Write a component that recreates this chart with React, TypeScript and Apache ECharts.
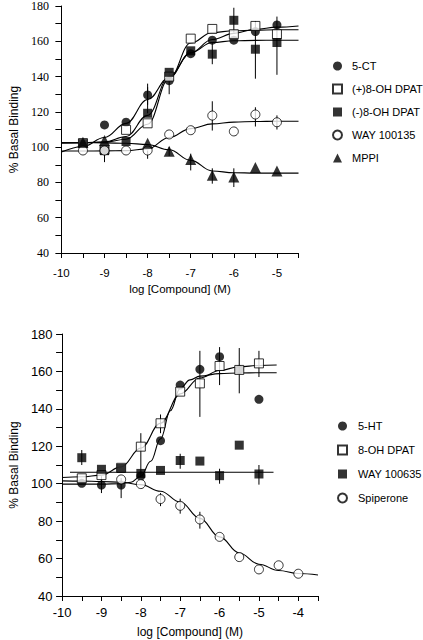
import React, { useEffect, useRef } from "react";
import * as echarts from "echarts";

// ---------- Top panel data ----------
const topX = [-9.5, -9, -8.5, -8, -7.5, -7, -6.5, -6, -5.5, -5];
const top5CT = [null, 112.6, 114.1, 129.6, 137.7, 153, 160.6, 160.6, 165.5, 169.3];
const topPlusDPAT = [102.3, 98.5, 109.8, 113.5, 140, 161.5, 167, 164, 168.7, 164];
const topMinusDPAT = [102, 98, 103.2, 119.2, 142.4, 154.6, 152.7, 171.9, 155.5, 159.3];
const topWAY135 = [98.1, 98.1, 98.1, 98.1, 107.2, 109.6, 117.9, 108.9, 118.5, 114.1];
const topMPPI = [102.8, 103.8, null, 102.2, 97.7, 93, 84, 83.1, 88.4, 86.5];

const topCurveX = [-10, -9.5, -9, -8.5, -8, -7.5, -7, -6.5, -6, -5.5, -5, -4.5];
const fit5CT = [97.2, 100.4, 105.5, 113.5, 127, 139.5, 153.5, 161, 164.5, 166.8, 168, 168.7];
const fitPlusDPAT = [102.4, 102.5, 102.8, 104.5, 113, 139, 159, 165, 166, 166.3, 166.5, 166.5];
const fitMinusDPAT = [102.4, 102.5, 103, 106, 118, 140, 153.5, 159.3, 160.3, 160.5, 160.6, 160.6];
const fitWAY135 = [97.8, 97.8, 97.9, 98, 99, 105.5, 110.5, 113.2, 114.2, 114.5, 114.7, 114.7];
const fitMPPI = [102.5, 102.5, 102.4, 102.2, 101.5, 98.5, 92.5, 86.5, 85.5, 85.3, 85.3, 85.3];

// [x, low, high]
const topErrors = [
  [-9, 91.5, 98.5],
  [-8, 124, 136],
  [-8, 119.2, 134],
  [-8, 93.4, 98.1],
  [-7.5, 130, 142],
  [-7.5, 95, 100],
  [-7, 86.8, 96.3],
  [-6.5, 109.4, 126],
  [-6.5, 147, 159],
  [-6.5, 79.3, 88],
  [-6, 165, 179],
  [-6, 77.4, 88],
  [-5.5, 138.8, 171.5],
  [-5.5, 111.7, 122.6],
  [-5, 141, 174],
  [-5, 110, 118],
];

// ---------- Bottom panel data ----------
const botX = [-9.5, -9, -8.5, -8, -7.5, -7, -6.5, -6, -5.5, -5, -4.5, -4];
const bot5HT = [100.2, 99.3, 99.3, 104.1, 123, 152.7, 161.1, 167.9, 161, 145.1, null, null];
const botDPAT = [102.9, 104.6, 108.5, 119.8, 132.3, 149.2, 153.6, 162.9, 160.8, 164.3, null, null];
const botWAY635 = [113.9, 107.7, 108.2, 105.5, 107.1, 112.4, 112.1, 104.3, 120.6, 105.2, null, null];
const botSpiperone = [null, null, 102.3, 99.8, 91.8, 88.2, 80.9, 71.6, 60.8, 54.2, 56.4, 51.9];

const fit5HTX = [-10, -9, -8.5, -8.25, -8, -7.75, -7.5, -7.25, -7, -6.75, -6.5, -6, -5.5, -5, -4.55];
const fit5HT = [99.8, 99.8, 100, 100.8, 104, 112, 124, 139, 151, 155.5, 157.5, 158.8, 159.2, 159.3, 159.3];
const fitDPATX = [-10, -9.5, -9, -8.5, -8, -7.5, -7, -6.5, -6, -5.5, -5, -4.55];
const fitDPAT = [103.3, 103.7, 104.6, 109, 119, 132.3, 148, 156.5, 160.5, 162.5, 163.2, 163.4];
const fitWAY635X = [-9.8, -4.63];
const fitWAY635 = [106.1, 106.1];
const fitSpipX = [-10, -9.5, -9, -8.5, -8, -7.5, -7, -6.5, -6, -5.5, -5, -4.5, -4, -3.5];
const fitSpip = [101.5, 101.4, 101.2, 100.8, 99.5, 96, 90.2, 81.5, 71.6, 63, 57, 53.6, 52, 51.2];

const botErrors = [
  [-9.5, 110, 118],
  [-9, 95, 104],
  [-8.5, 92.3, 103],
  [-8, 104, 127],
  [-7.5, 127, 137],
  [-7.5, 88, 95],
  [-7, 84, 92],
  [-7, 108, 116],
  [-6.5, 135.7, 171],
  [-6.5, 76, 85],
  [-6, 152.7, 173],
  [-6, 100, 108],
  [-5.5, 148.3, 172.5],
  [-5, 157, 171],
  [-5, 99.5, 110],
];

const topNames = ["5-CT", "(+)8-OH DPAT", "(-)8-OH DPAT", "WAY 100135", "MPPI"];
const botNames = ["5-HT", "8-OH DPAT", "WAY 100635", "Spiperone"];

const zip = (xs: number[], ys: (number | null)[]) =>
  xs.map((x, i) => [x, ys[i]]).filter((p) => p[1] !== null);

const SANS = "'Liberation Sans', Arial, sans-serif";
const SERIF = "'Liberation Serif', 'DejaVu Serif', serif";

const filled = { color: "#000" };
const open = { color: "#fff", borderColor: "#000", borderWidth: 1 };

function scatter(name: string, data: any[], idx: number, symbol: string, style: any, size = 9) {
  return {
    name,
    type: "scatter",
    xAxisIndex: idx,
    yAxisIndex: idx,
    data,
    symbol,
    symbolSize: size,
    itemStyle: style,
    z: 4,
    silent: true,
  };
}

function curve(name: string, xs: number[], ys: number[], idx: number) {
  return {
    name,
    type: "line",
    xAxisIndex: idx,
    yAxisIndex: idx,
    data: zip(xs, ys),
    showSymbol: false,
    symbol: "none",
    smooth: 0.4,
    smoothMonotone: "x",
    lineStyle: { color: "#000", width: 1.1 },
    z: 2,
    silent: true,
  };
}

function errors(name: string, data: number[][], idx: number) {
  return {
    name,
    type: "custom",
    xAxisIndex: idx,
    yAxisIndex: idx,
    data,
    encode: { x: 0, y: [1, 2] },
    z: 3,
    silent: true,
    renderItem: (_params: any, api: any) => {
      const p1 = api.coord([api.value(0), api.value(1)]);
      const p2 = api.coord([api.value(0), api.value(2)]);
      return {
        type: "line",
        shape: { x1: p1[0], y1: p1[1], x2: p2[0], y2: p2[1] },
        style: { stroke: "#000", lineWidth: 1 },
      };
    },
  };
}

function xAxisCfg(idx: number, max: number, fontSize: number, margin: number, nameSize: number, nameGap: number) {
  return {
    type: "value",
    gridIndex: idx,
    min: -10,
    max,
    interval: 0.5,
    splitLine: { show: false },
    axisLine: { show: true, onZero: false, lineStyle: { color: "#000", width: 1 } },
    axisTick: { show: true, length: 5, lineStyle: { color: "#000" } },
    axisLabel: {
      color: "#000",
      fontFamily: SANS,
      fontSize,
      margin,
      formatter: (v: number) => (Number.isInteger(v) ? String(v) : ""),
    },
    name: "log [Compound] (M)",
    nameLocation: "middle",
    nameGap,
    nameTextStyle: { color: "#000", fontFamily: SANS, fontSize: nameSize },
  };
}

function yAxisCfg(idx: number, font: string, fontSize: number, margin: number, nameGap: number) {
  return {
    type: "value",
    gridIndex: idx,
    min: 40,
    max: 180,
    interval: 10,
    splitLine: { show: false },
    axisLine: { show: true, onZero: false, lineStyle: { color: "#000", width: 1 } },
    axisTick: { show: true, length: 6, lineStyle: { color: "#000" } },
    axisLabel: {
      color: "#000",
      fontFamily: font,
      fontSize,
      margin,
      formatter: (v: number) => (v % 20 === 0 ? String(v) : ""),
    },
    name: "% Basal Binding",
    nameLocation: "middle",
    nameGap,
    nameTextStyle: { color: "#000", fontFamily: SANS, fontSize: 12 },
  };
}

export default function App() {
  const ref = useRef<HTMLDivElement>(null);

  useEffect(() => {
    if (!ref.current) return;
    const chart = echarts.init(ref.current, undefined, { renderer: "svg" });
    chart.setOption({
      animation: false,
      backgroundColor: "#fff",
      grid: [
        { left: 49.5, top: 5, width: 249, height: 248, containLabel: false },
        { left: 56, top: 334, width: 262, height: 262, containLabel: false },
      ],
      xAxis: [xAxisCfg(0, -4.5, 11.5, 14, 11.5, 30), xAxisCfg(1, -3.5, 13, 10, 12, 30)],
      yAxis: [yAxisCfg(0, SERIF, 12, 12.5, 38), yAxisCfg(1, SANS, 13, 9.5, 40)],
      legend: [
        {
          data: topNames,
          orient: "vertical",
          left: 327,
          top: 55,
          itemWidth: 9,
          itemHeight: 9,
          itemGap: 11,
          selectedMode: false,
          textStyle: { color: "#000", fontFamily: SANS, fontSize: 11, lineHeight: 12, padding: [0, 0, 0, 5] },
        },
        {
          data: botNames,
          orient: "vertical",
          left: 332,
          top: 415,
          itemWidth: 9,
          itemHeight: 9,
          itemGap: 12,
          selectedMode: false,
          textStyle: { color: "#000", fontFamily: SANS, fontSize: 11, lineHeight: 12, padding: [0, 0, 0, 6] },
        },
      ],
      series: [
        errors("errTop", topErrors, 0),
        curve("fit 5-CT", topCurveX, fit5CT, 0),
        curve("fit (+)8-OH DPAT", topCurveX, fitPlusDPAT, 0),
        curve("fit (-)8-OH DPAT", topCurveX, fitMinusDPAT, 0),
        curve("fit WAY 100135", topCurveX, fitWAY135, 0),
        curve("fit MPPI", topCurveX, fitMPPI, 0),
        scatter("5-CT", zip(topX, top5CT), 0, "circle", filled),
        scatter("(+)8-OH DPAT", zip(topX, topPlusDPAT), 0, "rect", open, 9),
        scatter("(-)8-OH DPAT", zip(topX, topMinusDPAT), 0, "rect", filled, 9),
        scatter("WAY 100135", zip(topX, topWAY135), 0, "circle", open),
        scatter("MPPI", zip(topX, topMPPI), 0, "triangle", filled, 11),

        errors("errBot", botErrors, 1),
        curve("fit 5-HT", fit5HTX, fit5HT, 1),
        curve("fit 8-OH DPAT", fitDPATX, fitDPAT, 1),
        curve("fit WAY 100635", fitWAY635X, fitWAY635, 1),
        curve("fit Spiperone", fitSpipX, fitSpip, 1),
        scatter("5-HT", zip(botX, bot5HT), 1, "circle", filled),
        scatter("8-OH DPAT", zip(botX, botDPAT), 1, "rect", open, 9),
        scatter("WAY 100635", zip(botX, botWAY635), 1, "rect", filled, 9),
        scatter("Spiperone", zip(botX, botSpiperone), 1, "circle", open),
      ],
    });
    return () => chart.dispose();
  }, []);

  return (
    <div
      ref={ref}
      style={{ position: "absolute", left: 0, top: 0, width: 423, height: 640, background: "#fff" }}
    />
  );
}
